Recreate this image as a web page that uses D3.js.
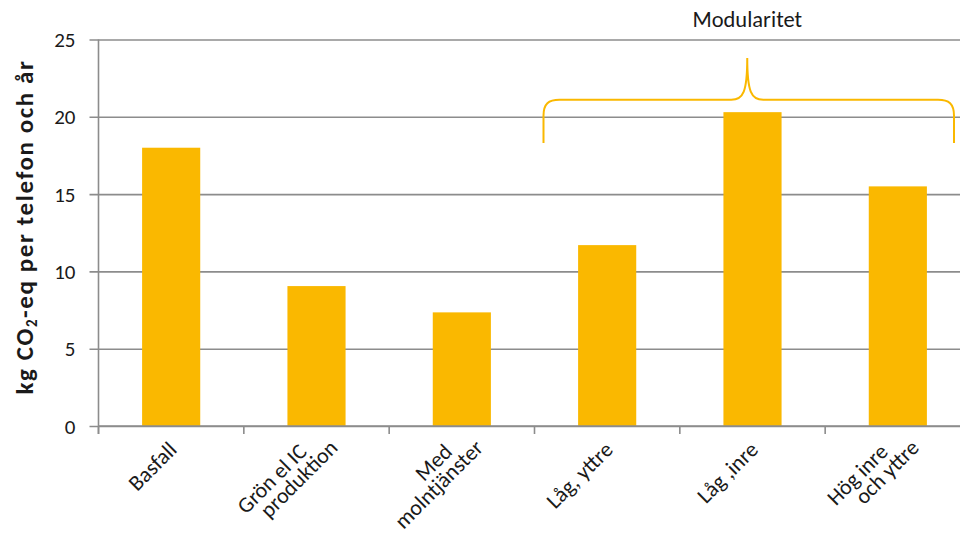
<!DOCTYPE html>
<html>
<head>
<meta charset="utf-8">
<script src="https://cdn.jsdelivr.net/npm/d3@7"></script>
<style>
  html, body { margin: 0; padding: 0; background: #fff; }
  svg { display: block; font-family: Carlito, Calibri, Lato, "Noto Sans", sans-serif; }
</style>
</head>
<body>
<svg id="chart" width="960" height="533"></svg>
<script>
// Scenario categories (each entry = lines of the axis label)
const categories = [
  ["Basfall"],
  ["Grön el IC", "produktion"],
  ["Med", "molntjänster"],
  ["Låg, yttre"],
  ["Låg ,inre"],
  ["Hög inre", "och yttre"]
];
// kg CO2-eq per phone and year
const values = [18.0, 9.05, 7.35, 11.7, 20.3, 15.5];
const yTicks = [0, 5, 10, 15, 20, 25];
// Bracket over the modularity scenarios (value levels for its ends, bar and tip)
const groupLabel = "Modularitet";
const groupRange = [3, 5];
const bracketLevels = { end: 18.3, bar: 21.1, tip: 23.8 };

(function draw() {
  const W = 960;
  const plotLeft = 98.5, plotRight = 970.5, plotTop = 39.5, plotBottom = 426;
  const barColor = "#FAB800";
  const gridColor = "#8c8c8c";
  const textColor = "#1a1a1a";

  const svg = d3.select("#chart");
  const keys = categories.map((c, i) => i);

  const x = d3.scaleBand().domain(keys).range([plotLeft, plotRight])
    .paddingInner(0.6).paddingOuter(0.3);
  const y = d3.scaleLinear().domain([0, 25]).range([plotBottom, plotTop]);

  // Horizontal gridlines + y axis
  const yAxis = d3.axisLeft(y).tickValues(yTicks).tickSize(-(W - plotLeft)).tickSizeOuter(0);
  const gy = svg.append("g").attr("transform", `translate(${plotLeft},0)`).call(yAxis);
  gy.select(".domain").remove();
  gy.attr("font-family", null).attr("font-size", null);
  gy.selectAll(".tick line")
    .attr("x1", -9).attr("stroke", gridColor).attr("stroke-width", 1.6);
  gy.selectAll(".tick text")
    .attr("fill", textColor).style("font-size", "21px").attr("x", -23).attr("dy", "0.34em");

  // Vertical axis line
  svg.append("line")
    .attr("x1", plotLeft).attr("x2", plotLeft)
    .attr("y1", y(25)).attr("y2", plotBottom + 8)
    .attr("stroke", gridColor).attr("stroke-width", 1.6);

  // Bars
  svg.append("g").selectAll("rect").data(values).join("rect")
    .attr("x", (d, i) => x(i))
    .attr("y", d => y(d))
    .attr("width", x.bandwidth())
    .attr("height", d => y(0) - y(d))
    .attr("fill", barColor);

  // Category boundary ticks below the baseline
  const boundaries = d3.range(categories.length + 1).map(i => plotLeft + i * x.step());
  svg.append("g").selectAll("line").data(boundaries.filter(b => b < W)).join("line")
    .attr("x1", d => d).attr("x2", d => d)
    .attr("y1", plotBottom).attr("y2", plotBottom + 8)
    .attr("stroke", gridColor).attr("stroke-width", 1.6);

  // Baseline (x axis)
  svg.append("line")
    .attr("x1", plotLeft).attr("x2", W)
    .attr("y1", plotBottom).attr("y2", plotBottom)
    .attr("stroke", gridColor).attr("stroke-width", 1.6);

  // Rotated category labels
  const lab = svg.append("g").style("font-size", "22px").attr("fill", textColor);
  categories.forEach((lines, i) => {
    const cx = x(i) + x.bandwidth() / 2 + 7;
    const n = lines.length;
    lines.forEach((t, j) => {
      const off = j - (n - 1) / 2;
      const px = cx + off * 31;
      const py = 451 - off * 4;
      lab.append("text")
        .attr("transform", `translate(${px},${py}) rotate(-45)`)
        .attr("text-anchor", "end")
        .text(t);
    });
  });

  // Bracket
  const bx0 = boundaries[groupRange[0]] + 9;
  const bx1 = boundaries[groupRange[1] + 1] - 16.5;
  const bxm = (bx0 + bx1) / 2 - 1.5;
  const yEnd = y(bracketLevels.end), yBar = y(bracketLevels.bar), yTip = y(bracketLevels.tip);
  const r = 16;
  const p = d3.path();
  p.moveTo(bx0, yEnd);
  p.lineTo(bx0, yBar + r);
  p.bezierCurveTo(bx0, yBar + 4, bx0 + 5, yBar, bx0 + r, yBar);
  p.lineTo(bxm - r, yBar);
  p.bezierCurveTo(bxm - 4, yBar, bxm, yBar - 8, bxm, yTip);
  p.bezierCurveTo(bxm, yBar - 8, bxm + 4, yBar, bxm + r, yBar);
  p.lineTo(bx1 - r, yBar);
  p.bezierCurveTo(bx1 - 5, yBar, bx1, yBar + 4, bx1, yBar + r);
  p.lineTo(bx1, yEnd);
  svg.append("path").attr("d", p.toString())
    .attr("fill", "none").attr("stroke", barColor).attr("stroke-width", 2);

  svg.append("text")
    .attr("x", bxm).attr("y", 27)
    .attr("text-anchor", "middle")
    .attr("fill", textColor)
    .style("font-size", "22.5px")
    .text(groupLabel);

  // Y axis title with subscript, spread to its full span along the axis
  const yt = svg.append("text")
    .attr("transform", `translate(33,227) rotate(-90)`)
    .attr("text-anchor", "middle")
    .attr("fill", textColor)
    .style("font-size", "25px")
    .style("font-weight", "bold");
  yt.append("tspan").text("kg CO");
  yt.append("tspan").text("2").style("font-size", "15px").attr("dy", 4);
  yt.append("tspan").text("-eq per telefon och år").attr("dy", -4);
  const titleSpan = 335;
  const len = yt.node().getComputedTextLength();
  const nChars = yt.text().length;
  if (len < titleSpan) yt.style("letter-spacing", ((titleSpan - len) / nChars) + "px");
})();
</script>
</body>
</html>
